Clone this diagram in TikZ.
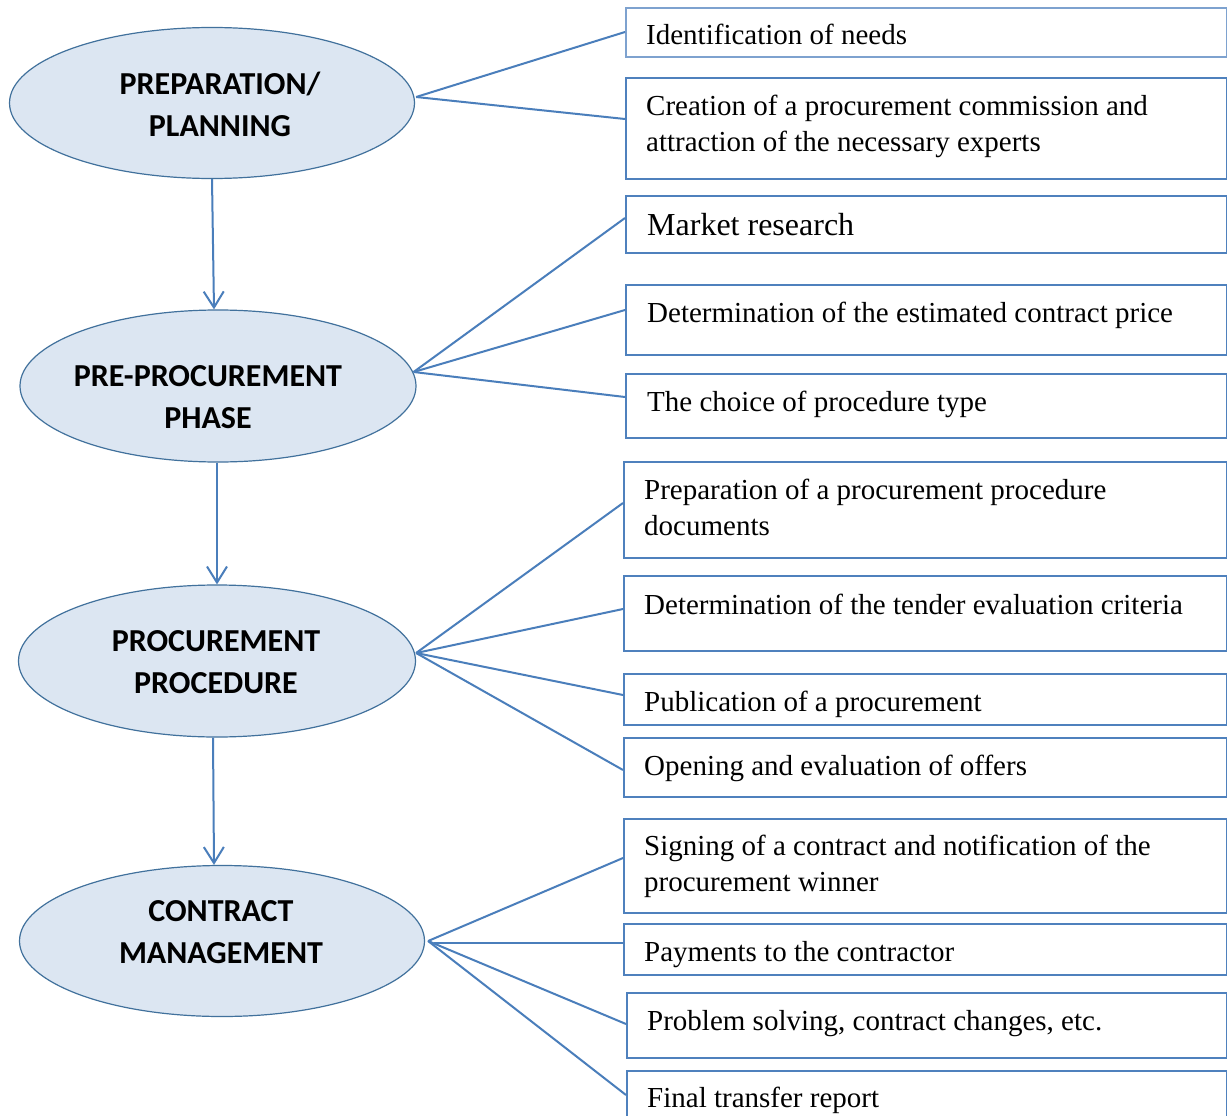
\documentclass[tikz,border=0pt]{standalone}
\usepackage{fontspec}
\setmainfont{Liberation Serif}
\newfontfamily\calib{Carlito}
\usetikzlibrary{shapes.geometric,arrows.meta}
\definecolor{connc}{HTML}{4A7EBB}
\definecolor{boxc}{HTML}{4F81BD}
\definecolor{boxlight}{HTML}{7EA2CF}
\definecolor{ellfill}{HTML}{DCE6F2}
\definecolor{elldraw}{HTML}{41719C}
\begin{document}
\begin{tikzpicture}[x=1pt,y=-1pt,
  ell/.style={ellipse, draw=elldraw, line width=1.2pt, fill=ellfill, inner sep=0pt},
  elltext/.style={anchor=base, inner sep=0pt, font=\calib\bfseries\fontsize{32}{42}\selectfont},
  stagebox/.style={rectangle, draw=boxc, line width=2.2pt, anchor=north west, inner sep=0pt},
  boxtext/.style={anchor=base west, inner sep=0pt, font=\fontsize{29}{36}\selectfont},
  link/.style={draw=connc, line width=2pt},
  flow/.style={link, -{Straight Barb[length=16pt,width=20pt]}}
]
\useasboundingbox (0,0) rectangle (1227,1116);
\fill[white] (0,0) rectangle (1227,1116);
\clip (0,0) rectangle (1227,1116);

% ellipses
\node[ell, minimum width=405pt, minimum height=151pt] (e1) at (212,103) {};
\node[ell, minimum width=396pt, minimum height=152pt] (e2) at (218,386) {};
\node[ell, minimum width=397pt, minimum height=152pt] (e3) at (217,661) {};
\node[ell, minimum width=405pt, minimum height=151pt] (e4) at (222,941) {};

\node[elltext] (te1) at ([shift={(8,-8)}]e1.center) {\parbox[t]{400pt}{\centering PREPARATION/\\PLANNING}};
\node[elltext] (te2) at ([shift={(-10,0)}]e2.center) {\parbox[t]{400pt}{\centering PRE-PROCUREMENT\\PHASE}};
\node[elltext] (te3) at ([shift={(-1,-10)}]e3.center) {\parbox[t]{400pt}{\centering PROCUREMENT\\PROCEDURE}};
\node[elltext] (te4) at ([shift={(-1,-20)}]e4.center) {\parbox[t]{400pt}{\centering CONTRACT\\MANAGEMENT}};

% tips where the connectors meet
\coordinate (p1) at ([shift={(1,-6)}]e1.east);
\coordinate (p2) at ([shift={(-3,-14)}]e2.east);
\coordinate (p3) at ([shift={(0,-8)}]e3.east);
\coordinate (p4) at ([shift={(3,0)}]e4.east);

% boxes
\node[stagebox, draw=boxlight, line width=1.6pt, minimum width=601pt, minimum height=49pt] (b1) at (625,7) {};
\node[stagebox, minimum width=601pt, minimum height=101pt] (b2) at (625,77) {};
\node[stagebox, minimum width=601pt, minimum height=57pt] (b3) at (625,195) {};
\node[stagebox, minimum width=601pt, minimum height=70pt] (b4) at (625,284) {};
\node[stagebox, minimum width=601pt, minimum height=64pt] (b5) at (625,373) {};
\node[stagebox, minimum width=603pt, minimum height=96pt] (b6) at (623,461) {};
\node[stagebox, minimum width=603pt, minimum height=75pt] (b7) at (623,575) {};
\node[stagebox, minimum width=603pt, minimum height=51pt] (b8) at (623,673) {};
\node[stagebox, minimum width=603pt, minimum height=59pt] (b9) at (623,737) {};
\node[stagebox, minimum width=603pt, minimum height=94pt] (b10) at (623,818) {};
\node[stagebox, minimum width=603pt, minimum height=51pt] (b11) at (623,923) {};
\node[stagebox, minimum width=600pt, minimum height=65pt] (b12) at (626,992) {};
\node[stagebox, minimum width=600pt, minimum height=80pt] (b13) at (626,1070) {};

% box texts
\node[boxtext] (tb1) at ([shift={(21,38)}]b1.north west) {Identification of needs};
\node[boxtext] (tb2) at ([shift={(21,38)}]b2.north west) {\parbox[t]{570pt}{Creation of a procurement commission and\\attraction of the necessary experts}};
\node[boxtext, font=\fontsize{32}{38}\selectfont] (tb3) at ([shift={(22,40)}]b3.north west) {Market research};
\node[boxtext] (tb4) at ([shift={(22,38)}]b4.north west) {Determination of the estimated contract price};
\node[boxtext] (tb5) at ([shift={(22,38)}]b5.north west) {The choice of procedure type};
\node[boxtext] (tb6) at ([shift={(21,38)}]b6.north west) {\parbox[t]{570pt}{Preparation of a procurement procedure\\documents}};
\node[boxtext] (tb7) at ([shift={(21,39)}]b7.north west) {Determination of the tender evaluation criteria};
\node[boxtext] (tb8) at ([shift={(21,38)}]b8.north west) {Publication of a procurement};
\node[boxtext] (tb9) at ([shift={(21,38)}]b9.north west) {Opening and evaluation of offers};
\node[boxtext] (tb10) at ([shift={(21,37)}]b10.north west) {\parbox[t]{570pt}{Signing of a contract and notification of the\\procurement winner}};
\node[boxtext] (tb11) at ([shift={(21,38)}]b11.north west) {Payments to the contractor};
\node[boxtext] (tb12) at ([shift={(21,38)}]b12.north west) {Problem solving, contract changes, etc.};
\node[boxtext] (tb13) at ([shift={(21,37)}]b13.north west) {Final transfer report};

% vertical flow arrows
\draw[flow] (e1.south) -- ([xshift=-4pt]e2.north);
\draw[flow] ([xshift=-1pt]e2.south) -- (e3.north);
\draw[flow] ([xshift=-4pt]e3.south) -- ([xshift=-8pt]e4.north);

% connectors to boxes
\draw[link] (p1) -- ([shift={(0,25)}]b1.north west);
\draw[link] (p1) -- ([shift={(0,42)}]b2.north west);
\draw[link] (p2) -- ([shift={(0,23)}]b3.north west);
\draw[link] (p2) -- ([shift={(0,26)}]b4.north west);
\draw[link] (p2) -- ([shift={(0,24)}]b5.north west);
\draw[link] (p3) -- ([shift={(0,42)}]b6.north west);
\draw[link] (p3) -- ([shift={(0,34)}]b7.north west);
\draw[link] (p3) -- ([shift={(0,22)}]b8.north west);
\draw[link] (p3) -- ([shift={(0,33)}]b9.north west);
\draw[link] (p4) -- ([shift={(0,40)}]b10.north west);
\draw[link] ([shift={(6,2)}]p4) -- ([shift={(0,20)}]b11.north west);
\draw[link] (p4) -- ([shift={(0,32)}]b12.north west);
\draw[link] (p4) -- ([shift={(0,25)}]b13.north west);
\end{tikzpicture}
\end{document}
